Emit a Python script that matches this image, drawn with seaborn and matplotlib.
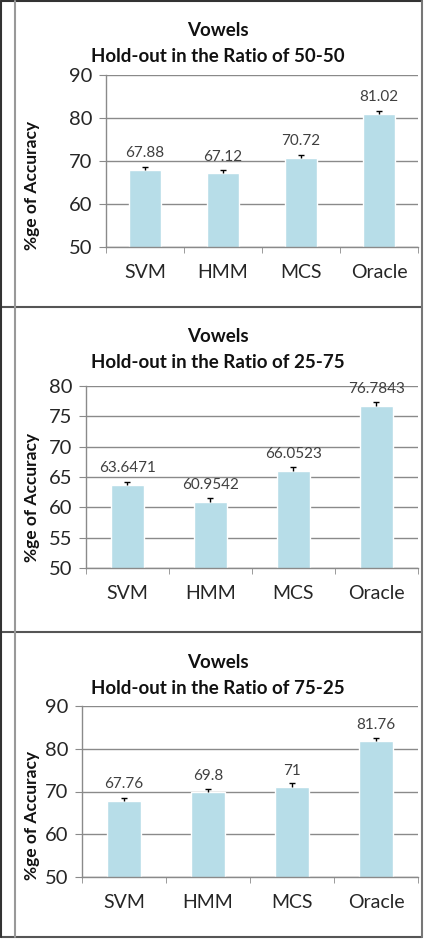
import matplotlib
matplotlib.use("Agg")
import matplotlib.pyplot as plt
from matplotlib.lines import Line2D
import seaborn as sns
import pandas as pd

models = ["SVM", "HMM", "MCS", "Oracle"]
acc_50_50 = [67.88, 67.12, 70.72, 81.02]
err_50_50 = [0.7, 0.7, 0.6, 0.6]
acc_25_75 = [63.6471, 60.9542, 66.0523, 76.7843]
err_25_75 = [0.6, 0.6, 0.6, 0.5]
acc_75_25 = [67.76, 69.8, 71, 81.76]
err_75_25 = [0.8, 0.7, 0.9, 0.7]
labels_50_50 = ["67.88", "67.12", "70.72", "81.02"]
labels_25_75 = ["63.6471", "60.9542", "66.0523", "76.7843"]
labels_75_25 = ["67.76", "69.8", "71", "81.76"]

sns.set_style("white")
plt.rcParams["font.family"] = ["Lato", "DejaVu Sans"]

bar_color = "#b7dde8"
grid_color = "#8a8a8a"

fig = plt.figure(figsize=(4.27, 9.42), dpi=100)
W, H = 427, 942


def px_axes(left, right, top, bottom):
    return fig.add_axes([left / W, 1 - bottom / H, (right - left) / W, (bottom - top) / H])


def draw_panel(ax, vals, errs, labels, ylim, step, title_y, ylabel_y, ratio):
    df = pd.DataFrame({"model": models, "acc": vals})
    sns.barplot(data=df, x="model", y="acc", color=bar_color, width=0.4,
                saturation=1, ax=ax, zorder=2)
    # plus-only error bars, like the Excel original
    eb = ax.errorbar(range(len(vals)), vals, yerr=[[0] * len(errs), errs], fmt="none",
                     ecolor="black", elinewidth=1, capsize=2.5, capthick=1, zorder=3)
    eb[1][0].set_visible(False)
    ax.bar_label(ax.containers[0], labels=labels, padding=7, fontsize=11, color="#404040")
    ax.set_ylim(*ylim)
    ax.set_yticks(range(ylim[0], ylim[1] + 1, step))
    ax.set_xlim(-0.5, 3.5)
    ax.yaxis.grid(True, color=grid_color, linewidth=1, zorder=0)
    ax.set_axisbelow(True)
    for s in ["top", "right"]:
        ax.spines[s].set_visible(False)
    for s in ["left", "bottom"]:
        ax.spines[s].set_color(grid_color)
        ax.spines[s].set_linewidth(1)
    ax.set_xticks([-0.5, 0.5, 1.5, 2.5, 3.5], minor=True)
    ax.tick_params(axis="x", which="minor", length=4, color=grid_color, direction="out", bottom=True)
    ax.tick_params(axis="x", which="major", length=0, pad=12, labelsize=14, labelcolor="#262626")
    ax.tick_params(axis="y", length=5, color=grid_color, direction="out", left=True,
                   labelsize=14.5, labelcolor="#262626", pad=5)
    ax.set_xlabel("")
    ax.set_ylabel("")
    fig.text(218 / W, 1 - title_y[0] / H, "Vowels", ha="center", va="center",
             fontsize=13.5, fontweight="bold", color="#111111")
    fig.text(218 / W, 1 - title_y[1] / H, "Hold-out in the Ratio of " + ratio, ha="center",
             va="center", fontsize=13.5, fontweight="bold", color="#111111")
    fig.text(32 / W, 1 - ylabel_y / H, "%ge of Accuracy", rotation=90, ha="center",
             va="center", fontsize=12.5, fontweight="bold", color="#111111")


ax1 = px_axes(106, 418, 75, 247)
draw_panel(ax1, acc_50_50, err_50_50, labels_50_50, (50, 90), 10, (31, 57), 186, "50-50")
ax2 = px_axes(86, 418, 386, 568)
draw_panel(ax2, acc_25_75, err_25_75, labels_25_75, (50, 80), 5, (337, 362), 497, "25-75")
ax3 = px_axes(82, 418, 706, 877)
draw_panel(ax3, acc_75_25, err_75_25, labels_75_25, (50, 90), 10, (663, 688), 815, "75-25")

# table-like frame around the panels
frame_color = "#555555"
def hline(y, x0=1, x1=422, c=frame_color, lw=1.5):
    fig.add_artist(Line2D([x0 / W, x1 / W], [1 - y / H, 1 - y / H], color=c, lw=lw))
def vline(x, y0=1, y1=937, c=frame_color, lw=1.5):
    fig.add_artist(Line2D([x / W, x / W], [1 - y0 / H, 1 - y1 / H], color=c, lw=lw))

hline(1, c="#333333")
hline(307)
hline(632)
hline(937)
vline(1.5, c="#333333")
vline(15, c="#999999")
vline(422, c="#777777")

fig.savefig("out.png", dpi=100)
